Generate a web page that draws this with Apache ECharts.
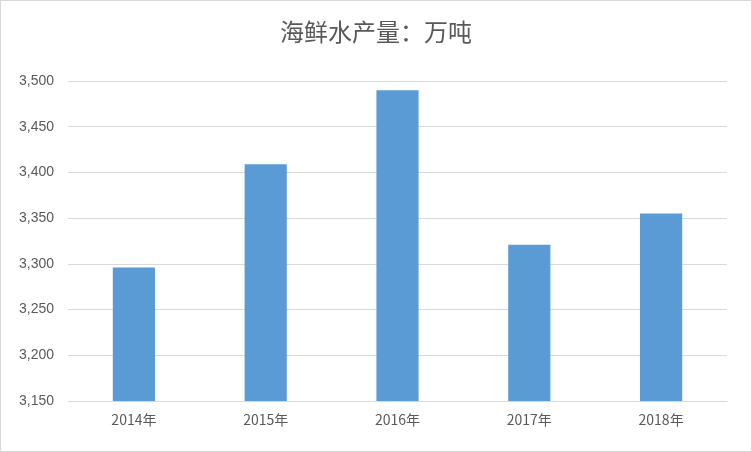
<!DOCTYPE html>
<html>
<head>
<meta charset="utf-8">
<script src="https://cdn.jsdelivr.net/npm/echarts@6/dist/echarts.min.js"></script>
<style>
html,body{margin:0;padding:0;background:#fff;}
#myEchart{width:750px;height:450px;border:1px solid #d9d9d9;}
</style>
</head>
<body>
<div id="myEchart"></div>
<script>
var years = ['2014年', '2015年', '2016年', '2017年', '2018年'];
var output = [3296, 3409, 3490, 3321, 3355];

var chart = echarts.init(document.getElementById('myEchart'));
var option = {
    title: {
        text: '海鲜水产量：万吨',
        left: 'center',
        top: 14,
        textStyle: {fontSize: 24, fontWeight: 'normal', color: '#595959', fontFamily: 'Noto Sans CJK SC'}
    },
    grid: {left: 67, right: 24, top: 80, bottom: 50},
    xAxis: {
        type: 'category',
        data: years,
        axisTick: {show: false},
        axisLine: {lineStyle: {color: '#d9d9d9'}},
        axisLabel: {color: '#595959', fontSize: 14, margin: 12, fontFamily: 'Noto Sans CJK SC'}
    },
    yAxis: {
        type: 'value',
        min: 3150,
        max: 3500,
        interval: 50,
        axisLine: {show: false},
        axisTick: {show: false},
        splitLine: {lineStyle: {color: '#d9d9d9'}},
        axisLabel: {color: '#595959', fontSize: 14, margin: 14}
    },
    series: [{
        type: 'bar',
        data: output,
        barWidth: '32%',
        itemStyle: {color: '#5b9bd5'}
    }]
};
chart.setOption(option);
</script>
</body>
</html>
